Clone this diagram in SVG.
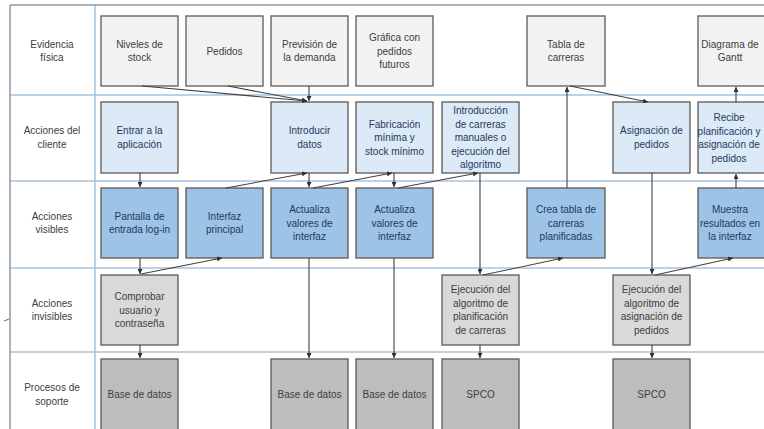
<svg xmlns="http://www.w3.org/2000/svg" width="764" height="429" viewBox="0 0 764 429">
  <style>
    .bg { fill: #ffffff; }
    .grid { stroke: #a9c4de; stroke-width: 1.5; fill: none; }
    .frame { stroke: #8d9cab; stroke-width: 1.5; fill: none; }
    .box { stroke: #595959; stroke-width: 1.3; }
    .ev { fill: #f2f2f2; }
    .cl { fill: #dce9f6; }
    .vi { fill: #9dc3e6; }
    .in { fill: #d9d9d9; }
    .sp { fill: #bdbdbd; }
    text { font-family: "Liberation Sans", Arial, sans-serif; font-size: 10px; text-anchor: middle; }
    .lbl { fill: #404040; }
    .tg { fill: #404040; }
    .tb { fill: #1f3a60; }
    .conn path { stroke: #404040; stroke-width: 1.1; fill: none; marker-end: url(#arrow); }
  </style>
  <defs>
    <marker id="arrow" markerUnits="userSpaceOnUse" markerWidth="5" markerHeight="5" refX="5" refY="2.5" orient="auto">
      <path d="M0,0 L5,2.5 L0,5 z" fill="#303030"/>
    </marker>
  </defs>

  <rect class="bg" x="0" y="0" width="764" height="429"/>

  <!-- swimlane grid -->
  <g id="grid">
    <path class="grid" d="M10,95 H764 M10,181 H764 M10,268 H764 M10,352 H764 M95,5 V429"/>
    <path class="frame" d="M10,5 H764 M10,5 V429"/>
    <path d="M4,321 L9,319" stroke="#4a6fa8" stroke-width="1" fill="none"/>
  </g>

  <!-- lane labels -->
  <g id="lane-labels" class="lbl">
    <text x="52" y="47.8">Evidencia</text>
    <text x="52" y="61.3">física</text>
    <text x="52" y="134.3">Acciones del</text>
    <text x="52" y="147.8">cliente</text>
    <text x="52" y="219.8">Acciones</text>
    <text x="52" y="233.3">visibles</text>
    <text x="52" y="306.8">Acciones</text>
    <text x="52" y="320.3">invisibles</text>
    <text x="52" y="391.3">Procesos de</text>
    <text x="52" y="404.8">soporte</text>
  </g>

  <!-- Evidencia física -->
  <g id="niveles-stock">
    <rect class="box ev" x="101" y="16" width="77" height="70"/>
    <text class="tg" x="139.5" y="47.8">Niveles de</text>
    <text class="tg" x="139.5" y="61.3">stock</text>
  </g>
  <g id="pedidos">
    <rect class="box ev" x="186" y="16" width="77" height="70"/>
    <text class="tg" x="224.5" y="54.5">Pedidos</text>
  </g>
  <g id="prevision-demanda">
    <rect class="box ev" x="271" y="16" width="77" height="70"/>
    <text class="tg" x="309.5" y="47.8">Previsión de</text>
    <text class="tg" x="309.5" y="61.3">la demanda</text>
  </g>
  <g id="grafica-pedidos">
    <rect class="box ev" x="356" y="16" width="77" height="70"/>
    <text class="tg" x="394.5" y="41">Gráfica con</text>
    <text class="tg" x="394.5" y="54.5">pedidos</text>
    <text class="tg" x="394.5" y="68">futuros</text>
  </g>
  <g id="tabla-carreras">
    <rect class="box ev" x="527" y="16" width="78" height="70"/>
    <text class="tg" x="566" y="47.8">Tabla de</text>
    <text class="tg" x="566" y="61.3">carreras</text>
  </g>
  <g id="diagrama-gantt">
    <rect class="box ev" x="698" y="16" width="78" height="70"/>
    <text class="tg" x="730" y="47.8">Diagrama de</text>
    <text class="tg" x="730" y="61.3">Gantt</text>
  </g>

  <!-- Acciones del cliente -->
  <g id="entrar-aplicacion">
    <rect class="box cl" x="101" y="102" width="77" height="71"/>
    <text class="tb" x="139.5" y="134.3">Entrar a la</text>
    <text class="tb" x="139.5" y="147.8">aplicación</text>
  </g>
  <g id="introducir-datos">
    <rect class="box cl" x="271" y="102" width="77" height="71"/>
    <text class="tb" x="309.5" y="134.3">Introducir</text>
    <text class="tb" x="309.5" y="147.8">datos</text>
  </g>
  <g id="fabricacion-minima">
    <rect class="box cl" x="356" y="102" width="77" height="71"/>
    <text class="tb" x="394.5" y="127.5">Fabricación</text>
    <text class="tb" x="394.5" y="141">mínima y</text>
    <text class="tb" x="394.5" y="154.5">stock mínimo</text>
  </g>
  <g id="introduccion-carreras">
    <rect class="box cl" x="442" y="102" width="77" height="71"/>
    <text class="tb" x="480.5" y="114">Introducción</text>
    <text class="tb" x="480.5" y="127.5">de carreras</text>
    <text class="tb" x="480.5" y="141">manuales o</text>
    <text class="tb" x="480.5" y="154.5">ejecución del</text>
    <text class="tb" x="480.5" y="168">algoritmo</text>
  </g>
  <g id="asignacion-pedidos">
    <rect class="box cl" x="613" y="102" width="77" height="71"/>
    <text class="tb" x="651.5" y="134.3">Asignación de</text>
    <text class="tb" x="651.5" y="147.8">pedidos</text>
  </g>
  <g id="recibe-planificacion">
    <rect class="box cl" x="698" y="102" width="78" height="71"/>
    <text class="tb" x="729" y="121">Recibe</text>
    <text class="tb" x="729" y="134.5">planificación y</text>
    <text class="tb" x="729" y="148">asignación de</text>
    <text class="tb" x="729" y="161.5">pedidos</text>
  </g>

  <!-- Acciones visibles -->
  <g id="pantalla-login">
    <rect class="box vi" x="101" y="188" width="77" height="70"/>
    <text class="tb" x="139.5" y="219.8">Pantalla de</text>
    <text class="tb" x="139.5" y="233.3">entrada log-in</text>
  </g>
  <g id="interfaz-principal">
    <rect class="box vi" x="186" y="188" width="77" height="70"/>
    <text class="tb" x="224.5" y="219.8">Interfaz</text>
    <text class="tb" x="224.5" y="233.3">principal</text>
  </g>
  <g id="actualiza-valores-1">
    <rect class="box vi" x="271" y="188" width="77" height="70"/>
    <text class="tb" x="309.5" y="213">Actualiza</text>
    <text class="tb" x="309.5" y="226.5">valores de</text>
    <text class="tb" x="309.5" y="240">interfaz</text>
  </g>
  <g id="actualiza-valores-2">
    <rect class="box vi" x="356" y="188" width="77" height="70"/>
    <text class="tb" x="394.5" y="213">Actualiza</text>
    <text class="tb" x="394.5" y="226.5">valores de</text>
    <text class="tb" x="394.5" y="240">interfaz</text>
  </g>
  <g id="crea-tabla">
    <rect class="box vi" x="527" y="188" width="78" height="70"/>
    <text class="tb" x="566" y="213">Crea tabla de</text>
    <text class="tb" x="566" y="226.5">carreras</text>
    <text class="tb" x="566" y="240">planificadas</text>
  </g>
  <g id="muestra-resultados">
    <rect class="box vi" x="698" y="188" width="78" height="70"/>
    <text class="tb" x="730" y="213">Muestra</text>
    <text class="tb" x="730" y="226.5">resultados en</text>
    <text class="tb" x="730" y="240">la interfaz</text>
  </g>

  <!-- Acciones invisibles -->
  <g id="comprobar-usuario">
    <rect class="box in" x="101" y="275" width="77" height="70"/>
    <text class="tg" x="139.5" y="300">Comprobar</text>
    <text class="tg" x="139.5" y="313.5">usuario y</text>
    <text class="tg" x="139.5" y="327">contraseña</text>
  </g>
  <g id="ejecucion-planificacion">
    <rect class="box in" x="442" y="275" width="77" height="70"/>
    <text class="tg" x="480.5" y="293">Ejecución del</text>
    <text class="tg" x="480.5" y="306.5">algoritmo de</text>
    <text class="tg" x="480.5" y="320">planificación</text>
    <text class="tg" x="480.5" y="333.5">de carreras</text>
  </g>
  <g id="ejecucion-asignacion">
    <rect class="box in" x="613" y="275" width="77" height="70"/>
    <text class="tg" x="651.5" y="293">Ejecución del</text>
    <text class="tg" x="651.5" y="306.5">algoritmo de</text>
    <text class="tg" x="651.5" y="320">asignación de</text>
    <text class="tg" x="651.5" y="333.5">pedidos</text>
  </g>

  <!-- Procesos de soporte -->
  <g id="base-datos-1">
    <rect class="box sp" x="101" y="359" width="77" height="72"/>
    <text class="tg" x="139.5" y="397.5">Base de datos</text>
  </g>
  <g id="base-datos-2">
    <rect class="box sp" x="271" y="359" width="77" height="72"/>
    <text class="tg" x="309.5" y="397.5">Base de datos</text>
  </g>
  <g id="base-datos-3">
    <rect class="box sp" x="356" y="359" width="77" height="72"/>
    <text class="tg" x="394.5" y="397.5">Base de datos</text>
  </g>
  <g id="spco-1">
    <rect class="box sp" x="442" y="359" width="77" height="72"/>
    <text class="tg" x="480.5" y="397.5">SPCO</text>
  </g>
  <g id="spco-2">
    <rect class="box sp" x="613" y="359" width="77" height="72"/>
    <text class="tg" x="651.5" y="397.5">SPCO</text>
  </g>

  <!-- connectors -->
  <g id="connectors" class="conn">
    <path d="M142,86 L307,101"/>
    <path d="M228,86 L307,101"/>
    <path d="M309,86 V101"/>
    <path d="M140,173 V187"/>
    <path d="M140,258 V274"/>
    <path d="M141,274 L222,258"/>
    <path d="M226,188 L307,173"/>
    <path d="M309,173 V187"/>
    <path d="M313,188 L392,173"/>
    <path d="M394,173 V187"/>
    <path d="M398,188 L478,173"/>
    <path d="M480,173 V274"/>
    <path d="M309,258 V358"/>
    <path d="M394,258 V358"/>
    <path d="M140,345 V358"/>
    <path d="M480,345 V358"/>
    <path d="M483,275 L563,258"/>
    <path d="M567,188 V87"/>
    <path d="M570,86 L648,102"/>
    <path d="M652,173 V274"/>
    <path d="M652,345 V358"/>
    <path d="M655,275 L733,258"/>
    <path d="M736,188 V174"/>
    <path d="M736,102 V87"/>
  </g>
</svg>
